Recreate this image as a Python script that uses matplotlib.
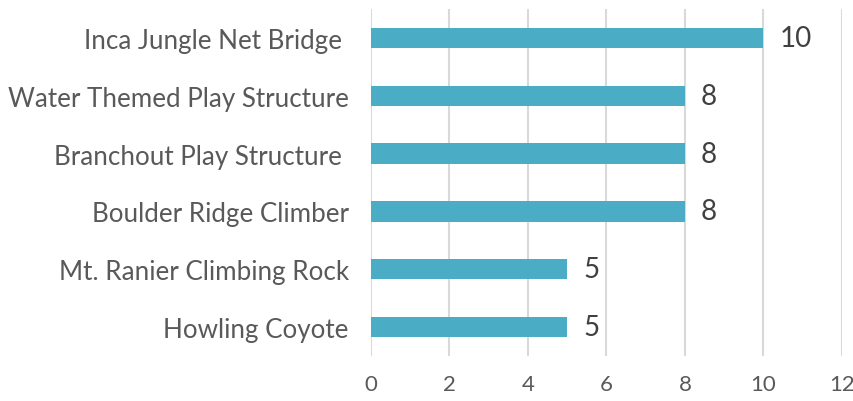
import matplotlib
matplotlib.use("Agg")
import matplotlib.pyplot as plt

categories = ["Inca Jungle Net Bridge ", "Water Themed Play Structure", "Branchout Play Structure ",
              "Boulder Ridge Climber", "Mt. Ranier Climbing Rock", "Howling Coyote"]
values = [10, 8, 8, 8, 5, 5]
xticks = [0, 2, 4, 6, 8, 10, 12]

plt.rcParams['font.family'] = ['Lato', 'DejaVu Sans']

fig = plt.figure(figsize=(8.54, 4.02), dpi=100)
ax = fig.add_axes([371/854, 45/402, 471/854, 347/402])

ypos = list(range(len(categories)))[::-1]
ax.barh(ypos, values, height=0.35, color="#4BACC6", zorder=3)
for y, v in zip(ypos, values):
    ax.annotate(str(v), (v, y), xytext=(11.5, 0), textcoords="offset points",
                va="center", ha="left", fontsize=20, color="#404040")

ax.set_xlim(0, 12)
ax.set_ylim(-0.5, len(categories) - 0.5)
ax.set_xticks(xticks)
ax.set_xticklabels([str(t) for t in xticks])
ax.set_yticks(ypos)
ax.set_yticklabels(categories)
ax.tick_params(axis="y", length=0, pad=16, labelsize=18.7, labelcolor="#595959")
ax.tick_params(axis="x", length=0, pad=13, labelsize=16, labelcolor="#595959")
ax.grid(axis="x", color="#D9D9D9", linewidth=1.5, zorder=0)
ax.grid(axis="y", visible=False)
for s in ax.spines.values():
    s.set_visible(False)

fig.savefig("out.png", dpi=100)
